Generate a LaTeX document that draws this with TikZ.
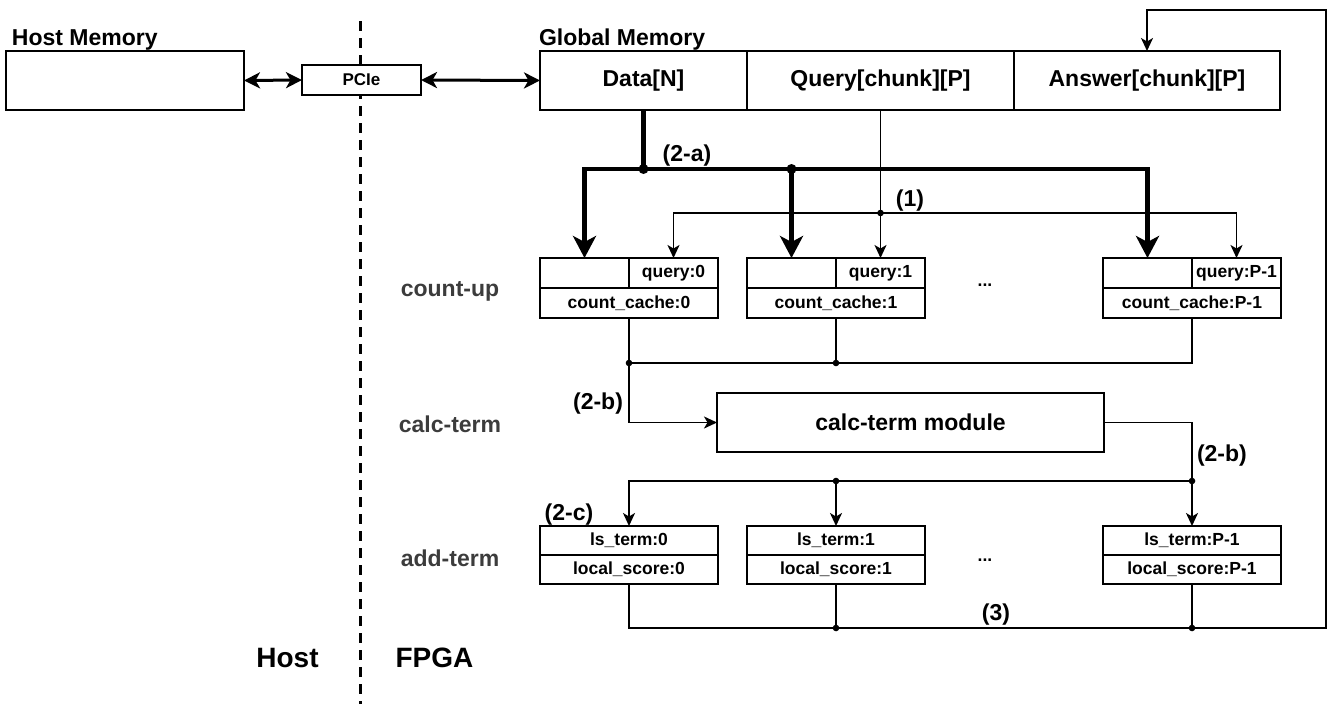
\documentclass[tikz,border=0pt]{standalone}
\usepackage{fontspec}
\setmainfont{Liberation Sans}
\usetikzlibrary{arrows.meta}
\definecolor{rowgray}{HTML}{3C3C3C}
\begin{document}
\begin{tikzpicture}[x=1pt,y=-1pt,
  bigfont/.style={font=\fontsize{23}{27}\selectfont\bfseries},
  smallfont/.style={font=\fontsize{17.5}{21}\selectfont\bfseries},
  cell/.style={draw, line width=1.8pt, fill=white, inner sep=0pt, outer sep=0pt},
  lbl/.style={inner sep=0pt, outer sep=0pt},
  rowlbl/.style={lbl, bigfont, text=rowgray, anchor=base},
  thinln/.style={line width=1.8pt},
  thinarr/.style={line width=1.8pt, -{Stealth[length=13pt, width=12pt, inset=3.5pt]}},
  thickarr/.style={line width=4.5pt, -{Stealth[length=22pt, width=23pt, inset=6pt]}},
  dblarr/.style={line width=3pt, {Stealth[length=16pt, width=16pt, inset=4.5pt]}-{Stealth[length=16pt, width=16pt, inset=4.5pt]}},
  sepline/.style={line width=3pt, dash pattern=on 10pt off 7pt},
  bigdot/.style={fill, radius=5pt},
  smalldot/.style={fill, radius=3.3pt}
]
\useasboundingbox (0,0) rectangle (1330,704);

% host / fpga separator
\draw[sepline] (360,21) -- (360,704);

% top labels
\node[lbl, bigfont, anchor=base west] (hmlbl) at (12,45) {Host Memory};
\node[lbl, bigfont, anchor=base west] (gmlbl) at (539,45) {Global Memory};

% host memory, PCIe
\node[cell, minimum width=238pt, minimum height=59pt] (host) at (125,80.5) {};
\node[cell, minimum width=119pt, minimum height=30pt, font=\fontsize{17}{20}\selectfont\bfseries] (pcie) at (361.5,80) {PCIe};

% global memory
\node[cell, bigfont, minimum width=207pt, minimum height=59pt] (data) at (643.5,80.5) {Data[N]};
\node[cell, bigfont, minimum width=267pt, minimum height=59pt] (query) at (880.5,80.5) {Query[chunk][P]};
\node[cell, bigfont, minimum width=266pt, minimum height=59pt] (answer) at (1147,80.5) {Answer[chunk][P]};

% count-up boxes
\foreach \n/\x in {0/540, 1/747, P/1103}{
  \node[cell, minimum width=89pt, minimum height=30pt] (c\n e) at (\x+44.5,273) {};
  \node[cell, minimum width=89pt, minimum height=30pt] (c\n q) at (\x+133.5,273) {};
  \node[cell, minimum width=178pt, minimum height=30pt] (c\n c) at (\x+89,303) {};
}
\node[lbl, smallfont] at (c0q) {query:0};
\node[lbl, smallfont] at (c1q) {query:1};
\node[lbl, smallfont] at (cPq) {query:P-1};
\node[lbl, smallfont] at (c0c) {count\_cache:0};
\node[lbl, smallfont] at (c1c) {count\_cache:1};
\node[lbl, smallfont] at (cPc) {count\_cache:P-1};
\node[lbl, smallfont] (dots1) at (985,285) {...};

% calc-term module
\node[cell, bigfont, minimum width=387pt, minimum height=59pt] (calc) at (910.5,422.5) {calc-term module};

% add-term boxes
\node[cell, smallfont, minimum width=178pt, minimum height=29pt] (a0t) at (629,540.5) {ls\_term:0};
\node[cell, smallfont, minimum width=178pt, minimum height=29pt] (a0s) at (629,569.5) {local\_score:0};
\node[cell, smallfont, minimum width=178pt, minimum height=29pt] (a1t) at (836,540.5) {ls\_term:1};
\node[cell, smallfont, minimum width=178pt, minimum height=29pt] (a1s) at (836,569.5) {local\_score:1};
\node[cell, smallfont, minimum width=178pt, minimum height=29pt] (aPt) at (1192,540.5) {ls\_term:P-1};
\node[cell, smallfont, minimum width=178pt, minimum height=29pt] (aPs) at (1192,569.5) {local\_score:P-1};
\node[lbl, smallfont] (dots2) at (985,560) {...};

% row labels
\node[rowlbl] (rcount) at (450,296) {count-up};
\node[rowlbl] (rcalc) at (450,432) {calc-term};
\node[rowlbl] (radd) at (450,566) {add-term};

% host / fpga labels
\node[lbl, font=\fontsize{28}{32}\selectfont\bfseries, anchor=base] (hostlbl) at (287.5,667) {Host};
\node[lbl, font=\fontsize{28}{32}\selectfont\bfseries, anchor=base] (fpgalbl) at (434.5,667) {FPGA};

% PCIe arrows
\draw[dblarr] (host.east) -- (pcie.west);
\draw[dblarr] (pcie.east) -- (data.west);

% (2-a) data distribution
\coordinate (j1) at (643.5,169);
\coordinate (j2) at (791.5,169);
\draw[line width=4.5pt] (data.south) -- (j1);
\draw[thickarr] (j1) -| (c0e.north);
\draw[thickarr] (j1) -- (j2) -| (cPe.north);
\draw[thickarr] (j2) -- (c1e.north);
\fill[bigdot] (j1) circle;
\fill[bigdot] (j2) circle;
\node[lbl, bigfont] (l2a) at (687,156) {(2-a)};

% (1) query distribution
\coordinate (q1) at (880.5,213);
\draw[thinln] (query.south) -- (q1);
\draw[thinarr] (q1) -- (c1q.north);
\draw[thinarr] (q1) -| (c0q.north);
\draw[thinarr] (q1) -| (cPq.north);
\fill[smalldot] (q1) circle;
\node[lbl, bigfont] (l1) at (910,201) {(1)};

% count-up -> calc-term
\coordinate (m0) at (629,363);
\coordinate (m1) at (836,363);
\draw[thinln] (c0c.south) -- (m0);
\draw[thinln] (c1c.south) -- (m1);
\draw[thinln] (cPc.south) |- (m0);
\draw[thinarr] (m0) |- (calc.west);
\fill[smalldot] (m0) circle;
\fill[smalldot] (m1) circle;
\node[lbl, bigfont] (l2b1) at (598,404) {(2-b)};

% calc-term -> add-term
\coordinate (n1) at (836,481);
\coordinate (nP) at (1192,481);
\draw[thinarr] (calc.east) -| (aPt.north);
\draw[thinarr] (nP) -| (a0t.north);
\draw[thinarr] (n1) -- (a1t.north);
\fill[smalldot] (n1) circle;
\fill[smalldot] (nP) circle;
\node[lbl, bigfont, anchor=west] (l2b2) at (1197,456) {(2-b)};
\node[lbl, bigfont] (l2c) at (569,515) {(2-c)};

% add-term -> answer
\coordinate (b1) at (836,628);
\coordinate (bP) at (1192,628);
\coordinate (r1) at (1326,628);
\coordinate (r2) at (1326,10);
\draw[thinarr] (a0s.south) |- (r1) -- (r2) -| (answer.north);
\draw[thinln] (a1s.south) -- (b1);
\draw[thinln] (aPs.south) -- (bP);
\fill[smalldot] (b1) circle;
\fill[smalldot] (bP) circle;
\node[lbl, bigfont] (l3) at (996,615) {(3)};
\end{tikzpicture}
\end{document}
